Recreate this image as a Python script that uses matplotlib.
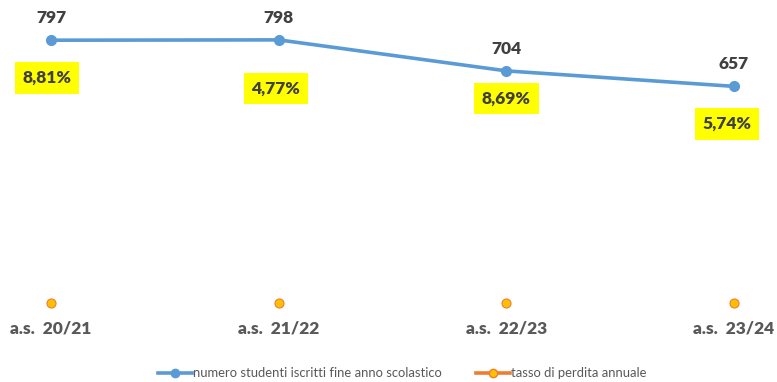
import matplotlib
matplotlib.use("Agg")
import matplotlib.pyplot as plt
from matplotlib.lines import Line2D

categories = ["a.s.  20/21", "a.s.  21/22", "a.s.  22/23", "a.s.  23/24"]
studenti = [797, 798, 704, 657]
tasso = [0.0881, 0.0477, 0.0869, 0.0574]
tasso_labels = ["8,81%", "4,77%", "8,69%", "5,74%"]
label_offsets = [(-3, -27), (-2, -35), (0, -20), (-5, -27)]  # points, label placement

blue = "#5B9BD5"
orange_edge = "#ED7D31"
orange_fill = "#FFC000"
txt = "#404040"
tick_col = "#595959"

plt.rcParams['font.family'] = ['Lato', 'DejaVu Sans']

fig = plt.figure(figsize=(7.77, 3.82), dpi=100)
ax = fig.add_axes([0, 0.1895, 1, 0.751])
x = list(range(len(categories)))

ax.plot(x, studenti, color=blue, lw=2.6, marker='o', ms=7, mfc=blue, mec=blue, zorder=3)
ax.plot(x, tasso, ls='none', marker='o', ms=6.5, mfc=orange_fill, mec=orange_edge, mew=0.8, zorder=3)

for i, v in enumerate(studenti):
    ax.annotate(f"{v}", (i, v), xytext=(0, 16), textcoords='offset points',
                ha='center', va='center', fontsize=12.5, fontweight='heavy', color=txt)

for i, (v, lab) in enumerate(zip(studenti, tasso_labels)):
    dx, dy = label_offsets[i]
    ax.annotate(lab, (i, v), xytext=(dx, dy), textcoords='offset points',
                ha='center', va='center', fontsize=12.5, fontweight='heavy', color=txt,
                bbox=dict(boxstyle='square,pad=0.45', fc='#FFFF00', ec='none'))

ax.set_xlim(-0.224, 3.189)
ax.set_ylim(-20, 850)
ax.set_xticks(x)
ax.set_xticklabels(categories, fontsize=12.5, fontweight='heavy', color=tick_col)
ax.tick_params(axis='x', length=0, pad=8)
ax.set_yticks([])
for s in ax.spines.values():
    s.set_visible(False)

handles = [
    Line2D([0], [0], color=blue, lw=2.6, marker='o', ms=6, mfc=blue, mec=blue),
    Line2D([0], [0], color=orange_edge, lw=2.6, marker='o', ms=6, mfc=orange_fill, mec=orange_edge),
]
fig.legend(handles, ["numero studenti iscritti fine anno scolastico", "tasso di perdita annuale"],
           loc='center', bbox_to_anchor=(0.518, 0.023), ncol=2, frameon=False,
           fontsize=9.4, labelcolor=tick_col, handlelength=2.6, handletextpad=0.1,
           columnspacing=2.6)

fig.savefig("out.png", dpi=100)
